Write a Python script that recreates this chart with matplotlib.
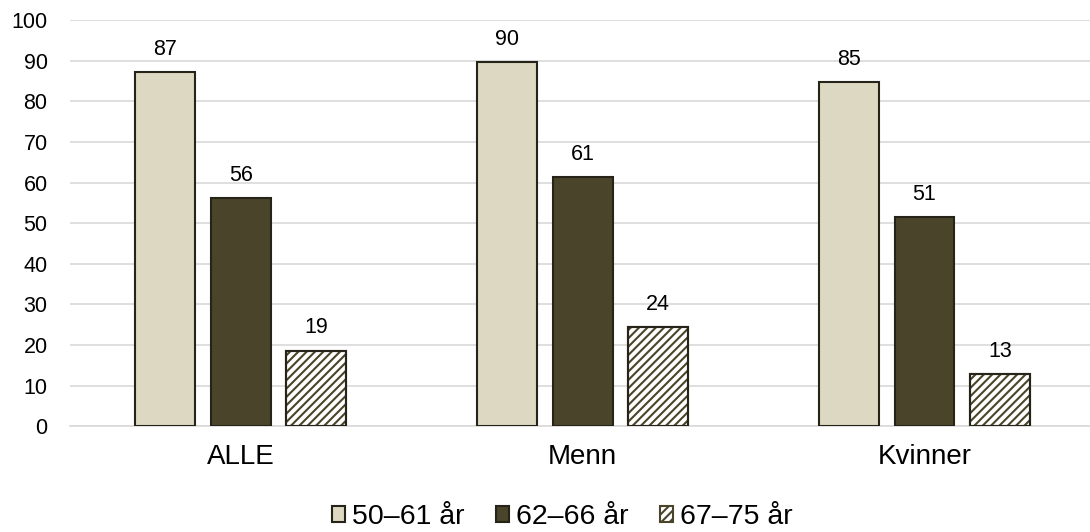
import matplotlib
matplotlib.use("Agg")
import matplotlib.pyplot as plt
import numpy as np

plt.rcParams['font.family'] = ['Liberation Sans', 'DejaVu Sans']
plt.rcParams['hatch.linewidth'] = 1.5

categories = ["ALLE", "Menn", "Kvinner"]
series_names = ["50–61 år", "62–66 år", "67–75 år"]
v_50_61 = [87.2, 89.6, 84.7]
v_62_66 = [56.2, 61.3, 51.5]
v_67_75 = [18.6, 24.3, 12.8]
labels_50_61 = ["87", "90", "85"]
labels_62_66 = ["56", "61", "51"]
labels_67_75 = ["19", "24", "13"]

fig = plt.figure(figsize=(10.9, 5.32), dpi=100)
ax = fig.add_axes([0.064, 0.199, 0.941, 0.763])

x = np.arange(len(categories))
w = 0.175
off = 0.221
edge = '#262418'
styles = [
    dict(color='#DDD8C2', hatch=None),
    dict(color='#4A442A', hatch=None),
    dict(color='white', hatch='////'),
]
allvals = [v_50_61, v_62_66, v_67_75]
alllabels = [labels_50_61, labels_62_66, labels_67_75]
for i, (vals, labs, st, name) in enumerate(zip(allvals, alllabels, styles, series_names)):
    kw = dict(color=st['color'], edgecolor=edge, linewidth=1.5, label=name, zorder=3)
    if st['hatch']:
        kw['hatch'] = st['hatch']
        kw['edgecolor'] = '#4A442A'
    bars = ax.bar(x + (i - 1) * off, vals, w, **kw)
    if st['hatch']:
        for b in bars:
            ax.add_patch(plt.Rectangle(b.get_xy(), b.get_width(), b.get_height(),
                                       fill=False, edgecolor=edge, linewidth=1.5, zorder=4))
    for b, lab in zip(bars, labs):
        ax.text(b.get_x() + b.get_width() / 2, b.get_height() + 3, lab,
                ha='center', va='bottom', fontsize=15.5, color='#000000')

ax.set_ylim(0, 100)
ax.set_xlim(-0.5, 2.5)
ax.set_yticks(range(0, 101, 10))
ax.tick_params(axis='y', length=0, labelsize=15.5, pad=16)
ax.set_xticks(x)
ax.set_xticklabels(categories, fontsize=20)
ax.tick_params(axis='x', length=0, pad=13)
ax.grid(axis='y', color='#D9D9D9', linewidth=1.2, zorder=0)
for s in ['top', 'right', 'left']:
    ax.spines[s].set_visible(False)
ax.spines['bottom'].set_color('#D9D9D9')
ax.spines['bottom'].set_linewidth(1.2)

leg = fig.legend(loc='center', bbox_to_anchor=(0.516, 0.028), ncol=3, frameon=False,
                 fontsize=20.5, handlelength=0.45, handleheight=0.45, handletextpad=0.25,
                 columnspacing=1.1, borderpad=0)

fig.savefig('out.png', dpi=100)
